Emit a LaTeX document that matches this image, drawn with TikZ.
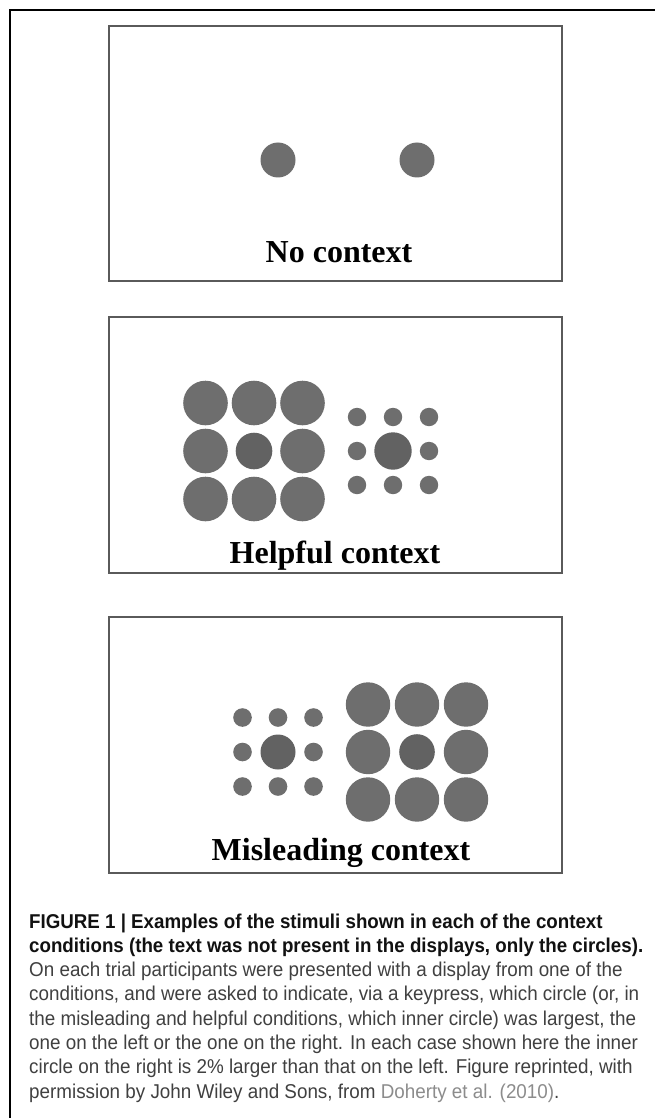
\documentclass[tikz,border=0pt]{standalone}
\usepackage{fontspec}
\usepackage{graphicx}
\setmainfont{Liberation Serif}
\newfontfamily\capfont{Liberation Sans}
\definecolor{dotgray}{HTML}{6E6E6E}
\definecolor{dotdark}{HTML}{626262}
\definecolor{framegray}{HTML}{5A5A5A}
\definecolor{captext}{HTML}{404040}
\definecolor{capbold}{HTML}{111111}
\definecolor{linkgray}{HTML}{8C8C8C}
\newlength\reglen
\newlength\boldlen
\newcommand\sreg{1}
\newcommand\sbold{1}
\newcommand\capsize{\fontsize{20}{22}\selectfont}
\begin{document}
\settowidth\reglen{\capfont\capsize the misleading and helpful conditions, which inner circle) was largest, the}%
\settowidth\boldlen{\capfont\bfseries\capsize conditions (the text was not present in the displays, only the circles).}%
\pgfmathsetmacro\sreg{607pt/\reglen}%
\pgfmathsetmacro\sbold{614pt/\boldlen}%
\begin{tikzpicture}[x=1pt,y=-1pt,
  panel/.style={draw=framegray,line width=2pt,fill=white},
  dot/.style={fill=dotgray},
  inner/.style={fill=dotdark},
  paneltext/.style={anchor=base,inner sep=0pt,font=\bfseries\fontsize{32}{32}\selectfont,text=black},
  capreg/.style={anchor=base west,inner sep=0pt,font=\capfont\capsize,text=captext},
  capbf/.style={anchor=base west,inner sep=0pt,font=\capfont\bfseries\capsize,text=capbold}
]
\useasboundingbox (0,0) rectangle (655,1118);
\fill[white] (0,0) rectangle (655,1118);
% outer frame
\draw[line width=2.5pt] (10,1118) -- (10,10) -- (655,10);

% panel 1
\draw[panel] (109,26) rectangle (562,281);
\fill[dot] (278,160) circle (17.5);
\fill[dot] (417,160) circle (17.5);
\node[paneltext] (t1) at (339,262) {No context};

% panel 2
\draw[panel] (109,317) rectangle (562,573);
\foreach \i in {-1,0,1}{
  \foreach \j in {-1,0,1}{
    \pgfmathtruncatemacro\c{abs(\i)+abs(\j)}
    \ifnum\c>0
      \fill[dot] ({254+48.5*\i},{451+48*\j}) circle (22.3);
      \fill[dot] ({393+36*\i},{451+34*\j}) circle (9.2);
    \fi
  }
}
\fill[inner] (254,451) circle (18.3);
\fill[inner] (393,451) circle (18.7);
\node[paneltext] (t2) at (335,563) {Helpful context};

% panel 3
\draw[panel] (109,617) rectangle (562,873);
\foreach \i in {-1,0,1}{
  \foreach \j in {-1,0,1}{
    \pgfmathtruncatemacro\c{abs(\i)+abs(\j)}
    \ifnum\c>0
      \fill[dot] ({417+49*\i},{752+47.5*\j}) circle (22.2);
      \fill[dot] ({278+35.5*\i},{752+34.5*\j}) circle (9.3);
    \fi
  }
}
\fill[inner] (417,752) circle (17.8);
\fill[inner] (278,752) circle (17.5);
\node[paneltext] (t3) at (341,860) {Misleading context};

% caption
\node[capbf] (c1) at (29,928) {\scalebox{\sbold}[1]{FIGURE 1 | Examples of the stimuli shown in each of the context}};
\node[capbf] (c2) at (29,952.3) {\scalebox{\sbold}[1]{conditions (the text was not present in the displays, only the circles).}};
\node[capreg] (c3) at (29,976.6) {\scalebox{\sreg}[1]{On each trial participants were presented with a display from one of the}};
\node[capreg] (c4) at (29,1000.9) {\scalebox{\sreg}[1]{conditions, and were asked to indicate, via a keypress, which circle (or, in}};
\node[capreg] (c5) at (29,1025.2) {\scalebox{\sreg}[1]{the misleading and helpful conditions, which inner circle) was largest, the}};
\node[capreg] (c6) at (29,1049.5) {\scalebox{\sreg}[1]{one on the left or the one on the right. In each case shown here the inner}};
\node[capreg] (c7) at (29,1073.8) {\scalebox{\sreg}[1]{circle on the right is 2\% larger than that on the left. Figure reprinted, with}};
\node[capreg] (c8) at (29,1098.1) {\scalebox{\sreg}[1]{permission by John Wiley and Sons, from \textcolor{linkgray}{Doherty et al. (2010)}.}};
\end{tikzpicture}
\end{document}
